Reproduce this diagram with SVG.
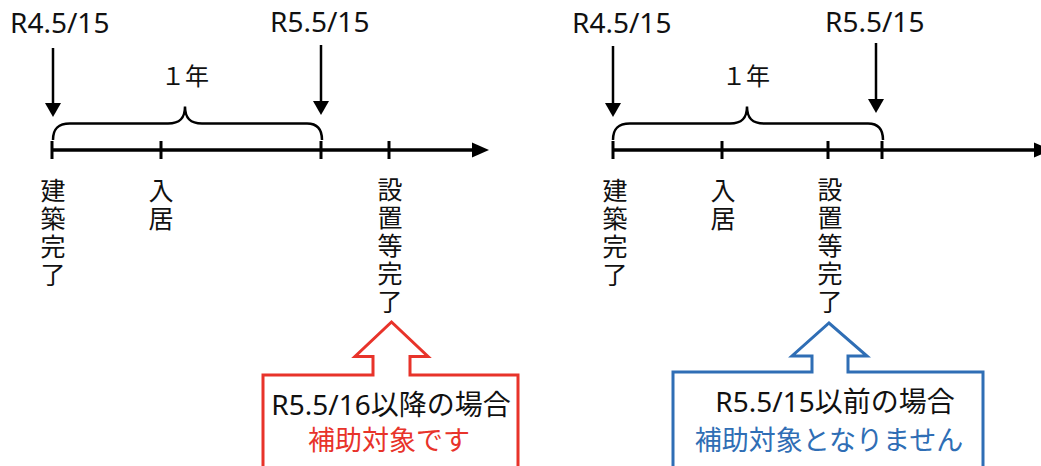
<svg xmlns="http://www.w3.org/2000/svg" width="1041" height="466" viewBox="0 0 1041 466">
<defs>
<style>
text{font-family:"Noto Sans","Noto Sans CJK JP",sans-serif;fill:#111}
.lbl{font-size:28px}
.v{font-family:"Noto Sans CJK JP",sans-serif;font-size:25px;writing-mode:vertical-rl;letter-spacing:3px}
.axis{stroke:#000;stroke-width:3.5;fill:none}
.tick{stroke:#000;stroke-width:3;fill:none}
.dn{stroke:#000;stroke-width:2.5;fill:none}
.brace{stroke:#000;stroke-width:2.5;fill:none}
.red{fill:#e8332a}
.blue{fill:#2f6eb5}
</style>
</defs>
<rect width="1041" height="466" fill="#fff"/>
<g id="connectors">
<line class="axis" x1="52" y1="150" x2="474" y2="150"/>
<path d="M472,142.5L489,150L472,157.5z" fill="#000"/>
<line class="axis" x1="613" y1="150" x2="1036" y2="150"/>
<path d="M1034,142.5L1051,150L1034,157.5z" fill="#000"/>
<line class="dn" x1="53" y1="48" x2="53" y2="104"/>
<path d="M45,103L61,103L53,117z" fill="#000"/>
<line class="dn" x1="321" y1="45" x2="321" y2="102"/>
<path d="M313,101L329,101L321,115z" fill="#000"/>
<line class="dn" x1="613" y1="46" x2="613" y2="104"/>
<path d="M605,103L621,103L613,117z" fill="#000"/>
<line class="dn" x1="876" y1="43" x2="876" y2="100"/>
<path d="M868,99L884,99L876,113z" fill="#000"/>
<path class="brace" d="M53,140C53,130 57,123.5 70,123.5L168,123.5C180,123.5 185,118 185,106.5C185,118 190,123.5 202,123.5L307,123.5C318,123.5 322,130 322,140"/>
<path class="brace" d="M613,140C613,130 617,123.5 630,123.5L730,123.5C742,123.5 747,118 747,106.5C747,118 752,123.5 764,123.5L868,123.5C879,123.5 883,130 883,140"/>
</g>
<g id="timeline-left">
<line class="tick" x1="52" y1="141" x2="52" y2="159"/>
<line class="tick" x1="161" y1="141" x2="161" y2="159"/>
<line class="tick" x1="321" y1="141" x2="321" y2="159"/>
<line class="tick" x1="389" y1="141" x2="389" y2="159"/>
</g>
<g id="timeline-right">
<line class="tick" x1="613" y1="141" x2="613" y2="159"/>
<line class="tick" x1="722" y1="141" x2="722" y2="159"/>
<line class="tick" x1="828" y1="141" x2="828" y2="159"/>
<line class="tick" x1="882" y1="141" x2="882" y2="159"/>
</g>
<g id="label-left-start"><text class="lbl" x="10" y="33">R4.5/15</text></g>
<g id="label-left-end"><text class="lbl" x="270" y="32">R5.5/15</text></g>
<g id="label-left-year"><text x="185" y="85" text-anchor="middle" style="font-size:24px">１年</text></g>
<g id="label-right-start"><text class="lbl" x="572" y="33">R4.5/15</text></g>
<g id="label-right-end"><text class="lbl" x="825" y="32">R5.5/15</text></g>
<g id="label-right-year"><text x="746" y="85" text-anchor="middle" style="font-size:24px">１年</text></g>
<g id="left-kenchiku"><text class="v" x="53" y="178">建築完了</text></g>
<g id="left-nyukyo"><text class="v" x="161" y="178">入居</text></g>
<g id="left-setchi"><text class="v" x="390" y="177">設置等完了</text></g>
<g id="right-kenchiku"><text class="v" x="615" y="178">建築完了</text></g>
<g id="right-nyukyo"><text class="v" x="723" y="178">入居</text></g>
<g id="right-setchi"><text class="v" x="830" y="177">設置等完了</text></g>
<g id="callout-red">
<path d="M263,480L263,375L373,375L373,356.5L355,356.5L391.5,322L428,356.5L410,356.5L410,375L518,375L518,480" fill="#fff" stroke="#e8332a" stroke-width="3"/>
<text class="lbl" x="391" y="415" text-anchor="middle">R5.5/16以降の場合</text>
<text class="red" x="389" y="450" text-anchor="middle" style="font-size:27px">補助対象です</text>
</g>
<g id="callout-blue">
<path d="M673,480L673,372L812,372L812,356L792,356L829,323L867,356L848,356L848,372L983,372L983,480" fill="#fff" stroke="#2f6eb5" stroke-width="3"/>
<text class="lbl" x="835" y="412" text-anchor="middle">R5.5/15以前の場合</text>
<text class="blue" x="829" y="450" text-anchor="middle" style="font-size:27px">補助対象となりません</text>
</g>
</svg>
